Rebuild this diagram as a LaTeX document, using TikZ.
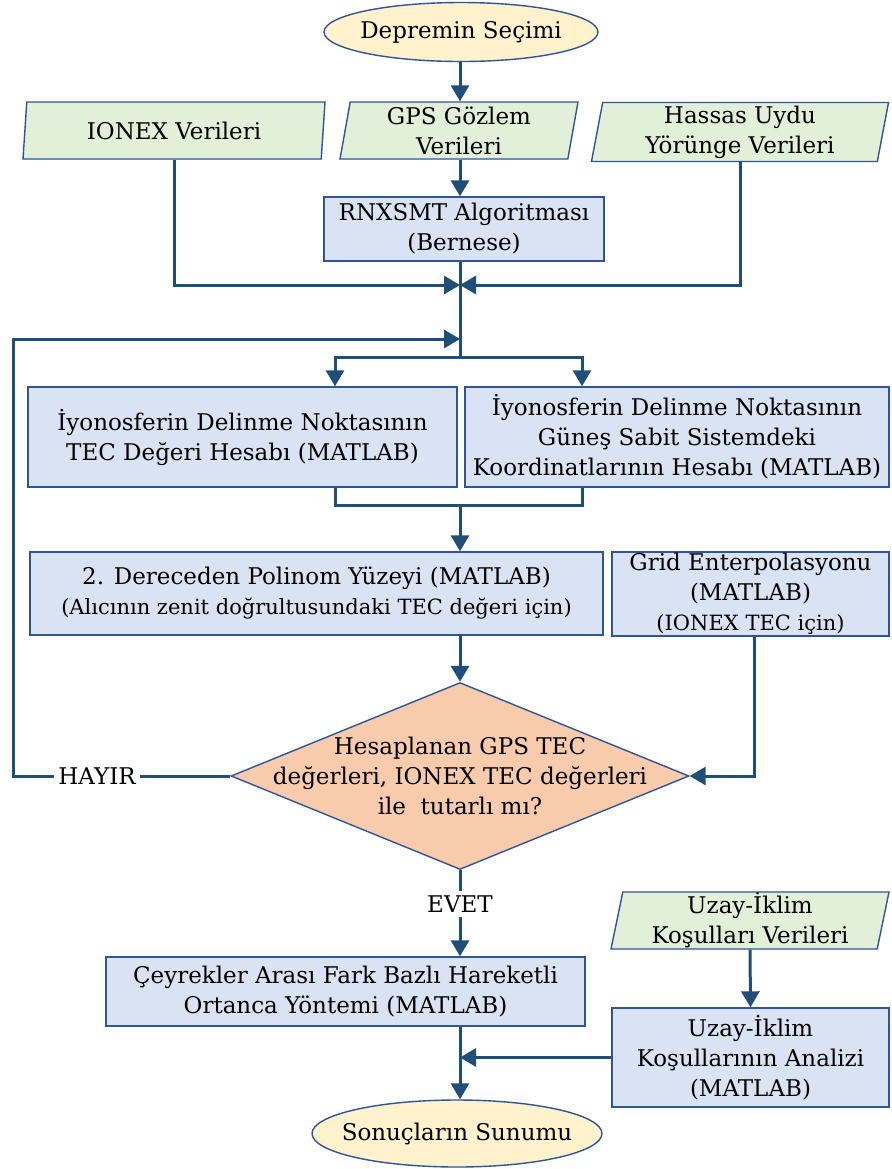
\documentclass[tikz,border=0pt]{standalone}
\usepackage{fontspec}
\setmainfont{DejaVu Serif}
\usepackage{tikz}
\usetikzlibrary{positioning, calc}
\usetikzlibrary{arrows.meta, shapes.geometric}
\definecolor{linecol}{RGB}{31,78,121}
\definecolor{framecol}{RGB}{47,85,151}
\definecolor{startfill}{RGB}{255,242,204}
\definecolor{datafill}{RGB}{226,240,217}
\definecolor{procfill}{RGB}{218,227,243}
\definecolor{askfill}{RGB}{248,203,173}
\tikzstyle{startbox}=[ellipse,draw=framecol,line width=0.7pt,fill=startfill,
inner sep=-7pt,align=center]
\tikzstyle{databox}=[trapezium,trapezium left angle=78,trapezium right angle=102,
trapezium stretches body,draw=framecol,line width=0.7pt,fill=datafill,inner sep=0pt,
align=center]
\tikzstyle{procbox}=[rectangle,draw=framecol,line width=0.7pt,fill=procfill,
inner sep=0pt,align=center]
\tikzstyle{askbox}=[diamond,draw=framecol,line width=0.7pt,fill=askfill,
inner sep=0pt]
\tikzstyle{textbox}=[rectangle,inner sep=2pt,fill=white]
\tikzstyle{edgepath}=[-{Triangle[length=8pt,width=9pt]},line width=1.5pt,
draw=linecol]
\tikzstyle{linepath}=[line width=1.5pt,draw=linecol]

\begin{document}
\begin{tikzpicture}[x=0.5pt,y=-0.5pt,font=\fontsize{11.5}{15}\selectfont]
    \useasboundingbox (0,0) rectangle (891,1169);

    \node[startbox, minimum width=137pt, minimum height=29.5pt] (start) at (461,32) {Depremin Seçimi};
    \node[databox, minimum width=151pt, minimum height=28.5pt] (ionex) at (174,130.5) {IONEX Verileri};
    \node[databox, minimum width=119pt, minimum height=28.5pt] (gps) at (459,130.5) {GPS Gözlem\\Verileri};
    \node[databox, minimum width=148.5pt, minimum height=29.5pt] (hassas) at (740,132) {Hassas Uydu\\Yörünge Verileri};
    \node[procbox, minimum width=140pt, minimum height=32pt] (rnx) at (464,229) {RNXSMT Algoritması\\(Bernese)};
    \node[procbox, minimum width=214.5pt, minimum height=50pt] (ipp1) at (242.5,437) {İyonosferin Delinme Noktasının\\TEC Değeri Hesabı (MATLAB)};
    \node[procbox, minimum width=212pt, minimum height=50pt] (ipp2) at (677,437) {İyonosferin Delinme Noktasının\\Güneş Sabit Sistemdeki\\Koordinatlarının Hesabı (MATLAB)};
    \node[procbox, minimum width=286.5pt, minimum height=41.5pt] (poli) at (316.5,593.5) {2. Dereceden Polinom Yüzeyi (MATLAB)\\{\fontsize{10.5}{14}\selectfont(Alıcının zenit doğrultusundaki TEC değeri için)}};
    \node[procbox, minimum width=138.5pt, minimum height=42pt] (grid) at (750.5,594) {Grid Enterpolasyonu\\(MATLAB)\\{\fontsize{10.5}{12}\selectfont(IONEX TEC için)}};
    \node[askbox, minimum width=229pt, minimum height=93.5pt] (karar) at (460,776) {};
    \node[align=center] (kararyazi) at (karar.center) {Hesaplanan GPS TEC\\değerleri, IONEX TEC değerleri\\ile\ \ tutarlı mı?};
    \node[textbox] (hayir) at (97,776) {HAYIR};
    \node[textbox] (evet) at (460,904) {EVET};
    \node[procbox, minimum width=239.5pt, minimum height=34.5pt] (ceyrek) at (345.5,991.5) {Çeyrekler Arası Fark Bazlı Hareketli\\Ortanca Yöntemi (MATLAB)};
    \node[databox, minimum width=139pt, minimum height=28.5pt] (uzayveri) at (750,920.5) {Uzay-İklim\\Koşulları Verileri};
    \node[procbox, minimum width=138.5pt, minimum height=49.5pt] (uzayanaliz) at (750.5,1057.5) {Uzay-İklim\\Koşullarının Analizi\\(MATLAB)};
    \node[startbox, minimum width=145pt, minimum height=33.5pt] (son) at (457,1133.5) {Sonuçların Sunumu};

    % junction points on the main line
    \coordinate (join) at (460,285);
    \coordinate (loop) at (460,339);
    \coordinate (split) at (460,357);
    \coordinate (s1) at (335,357);
    \coordinate (s2) at (582,357);
    \coordinate (merge) at (460,505);
    \coordinate (back) at (13,776);

    \draw[edgepath] (start.south -| join) -- (gps.north -| join);
    \draw[edgepath] (gps.south -| join) -- (rnx.north -| join);
    \draw[linepath] (rnx.south -| join) -- (split);
    \draw[edgepath] (ionex.south) |- (join);
    \draw[edgepath] (hassas.south) |- (join);
    \draw[edgepath] (split) -| (ipp1.north -| s1);
    \draw[edgepath] (split) -| (ipp2.north -| s2);
    \draw[linepath] (ipp1.south -| s1) |- (merge) -| (ipp2.south -| s2);
    \draw[edgepath] (merge) -- (poli.north -| merge);
    \draw[edgepath] (poli.south -| karar.north) -- (karar.north);
    \draw[edgepath] (grid.south -| 754,0) |- (karar.east);
    \draw[linepath] (karar.west) -- (hayir.east);
    \draw[edgepath] (hayir.west) -- (back) |- (loop);
    \draw[linepath] (karar.south) -- (evet.north);
    \draw[edgepath] (evet.south) -- (ceyrek.north -| evet.south);
    \draw[edgepath] (uzayveri.south) -- (uzayanaliz.north);
    \draw[edgepath] (ceyrek.south -| merge) -- (son.north -| merge);
    \draw[edgepath] (uzayanaliz.west) -- (uzayanaliz.west -| merge);
\end{tikzpicture}
\end{document}
